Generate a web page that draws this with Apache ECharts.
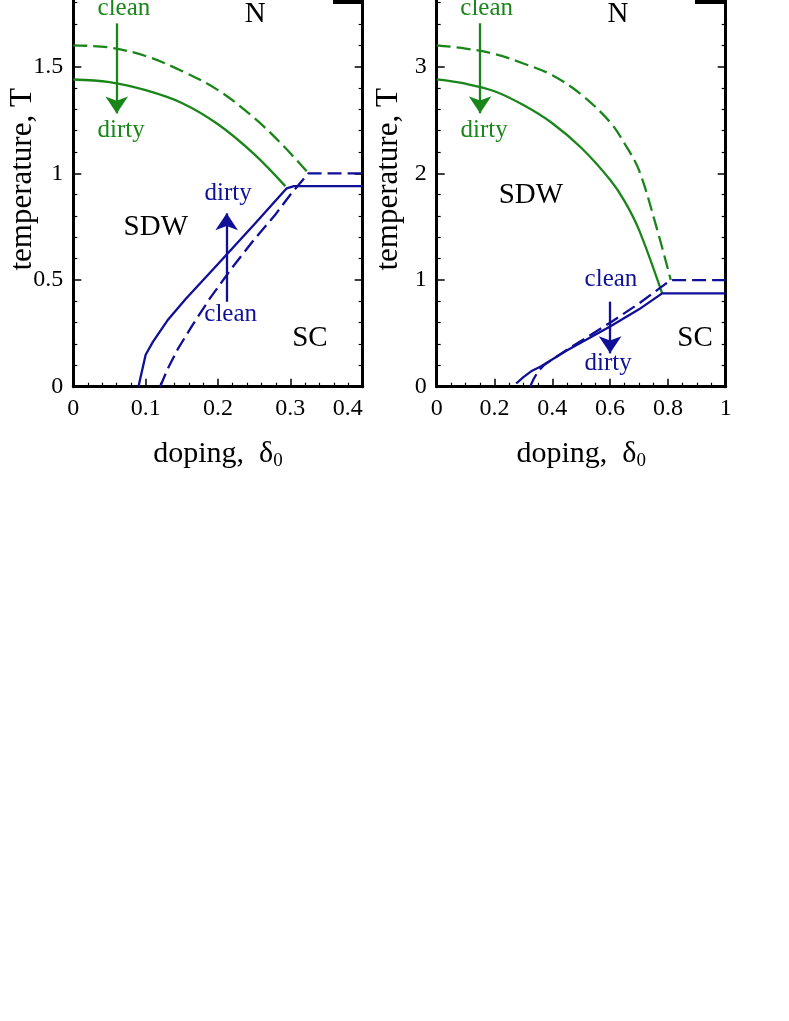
<!DOCTYPE html>
<html>
<head>
<meta charset="utf-8">
<script src="https://cdn.jsdelivr.net/npm/echarts@6/dist/echarts.min.js"></script>
<style>
html,body{margin:0;padding:0;background:#fff;}
#chart{width:789px;height:1021px;}
</style>
</head>
<body>
<div id="chart"></div>
<script>
// ---------- data ----------
// Left panel
const aGreenDashedX = [0, 0.05, 0.1, 0.15, 0.2, 0.25, 0.29, 0.325];
const aGreenDashedT = [1.6, 1.59, 1.55, 1.48, 1.39, 1.26, 1.13, 1.0];
const aGreenSolidX  = [0, 0.05, 0.1, 0.15, 0.2, 0.25, 0.293];
const aGreenSolidT  = [1.44, 1.428, 1.39, 1.33, 1.23, 1.09, 0.94];
const aBlueSolidX   = [0.09, 0.1, 0.11, 0.13, 0.155, 0.2, 0.25, 0.295, 0.305, 0.4];
const aBlueSolidT   = [0, 0.15, 0.21, 0.31, 0.41, 0.575, 0.76, 0.93, 0.94, 0.94];
const aBlueDashedX  = [0.12, 0.13, 0.145, 0.165, 0.19, 0.22, 0.25, 0.28, 0.3, 0.325, 0.4];
const aBlueDashedT  = [0, 0.08, 0.18, 0.29, 0.42, 0.56, 0.69, 0.81, 0.9, 1.0, 1.0];
// Right panel
const bGreenDashedX = [0, 0.1, 0.2, 0.3, 0.4, 0.5, 0.6, 0.65, 0.7, 0.76, 0.81];
const bGreenDashedT = [3.2, 3.17, 3.12, 3.03, 2.92, 2.74, 2.48, 2.28, 2.03, 1.5, 1.0];
const bGreenSolidX  = [0, 0.1, 0.2, 0.3, 0.4, 0.5, 0.6, 0.65, 0.7, 0.78];
const bGreenSolidT  = [2.88, 2.84, 2.77, 2.64, 2.47, 2.24, 1.94, 1.74, 1.47, 0.875];
const bBlueSolidX   = [0.275, 0.3, 0.33, 0.36, 0.45, 0.6, 0.7, 0.78, 1.0];
const bBlueSolidT   = [0.03, 0.09, 0.15, 0.19, 0.34, 0.565, 0.725, 0.875, 0.875];
const bBlueDashedX  = [0.323, 0.335, 0.35, 0.37, 0.45, 0.6, 0.7, 0.78, 0.81, 1.0];
const bBlueDashedT  = [0, 0.07, 0.14, 0.2, 0.345, 0.6, 0.78, 0.94, 1.0, 1.0];

// Axis ranges / ticks
const aXRange = [0, 0.4], aXStep = 0.1, aYRange = [0, 2], aYStep = 0.5;
const bXRange = [0, 1],   bXStep = 0.2, bYRange = [0, 4], bYStep = 1;

// Annotations (text, δ, T)
const aTexts = [
  ['clean', 0.07, 1.773, 'g'], ['dirty', 0.066, 1.203, 'g'],
  ['dirty', 0.214, 0.906, 'b'], ['clean', 0.2175, 0.338, 'b'],
  ['SDW', 0.114, 0.748, 'k'], ['SC', 0.327, 0.227, 'k'], ['N', 0.2513, 1.746, 'k']
];
const bTexts = [
  ['clean', 0.173, 3.546, 'g'], ['dirty', 0.164, 2.406, 'g'],
  ['clean', 0.603, 1.004, 'b'], ['dirty', 0.593, 0.218, 'b'],
  ['SDW', 0.326, 1.795, 'k'], ['SC', 0.894, 0.4536, 'k'], ['N', 0.627, 3.49, 'k']
];
// Arrows: [δ, T from, T to, colour]
const aArrows = [[0.06, 1.703, 1.281, 'g'], [0.212, 0.398, 0.8125, 'b']];
const bArrows = [[0.15, 3.407, 2.563, 'g'], [0.6, 0.797, 0.313, 'b']];

// ---------- style ----------
const GREEN = '#1a861a';
const BLUE = '#0f0f98';
const COL = {g: GREEN, b: BLUE, k: '#000'};
const FONT = "'Liberation Serif','Times New Roman',Times,serif";

function zip(xs, ys) { return xs.map((x, i) => [x, ys[i]]); }

const chart = echarts.init(document.getElementById('chart'), null, {renderer: 'canvas'});

const grids = [
  {left: 73.3, width: 289.4, top: -40, height: 426.7, containLabel: false, outerBoundsMode: 'none'},
  {left: 436.7, width: 289, top: -40, height: 426.7, containLabel: false, outerBoundsMode: 'none'}
];

function xAxisFor(gi, range, step, minorSplit, alignMax) {
  return {
    gridIndex: gi, type: 'value', min: range[0], max: range[1], interval: step,
    axisLine: {show: true, onZero: false, lineStyle: {color: '#000', width: 3}},
    axisTick: {show: true, inside: true, length: 8, lineStyle: {color: '#000', width: 1.5}},
    minorTick: {show: true, splitNumber: minorSplit, length: 4, lineStyle: {color: '#000', width: 1.2}},
    splitLine: {show: false}, minorSplitLine: {show: false},
    axisLabel: {fontFamily: FONT, fontSize: 24, color: '#000', margin: 10, alignMaxLabel: alignMax},
    name: '{a|doping,  δ}{s|0}', nameLocation: 'middle', nameGap: 50, nameMoveOverlap: false,
    nameTextStyle: {
      fontFamily: FONT, color: '#000',
      rich: {
        a: {fontFamily: FONT, fontSize: 30, color: '#000', lineHeight: 34},
        s: {fontFamily: FONT, fontSize: 19, color: '#000', lineHeight: 34, verticalAlign: 'bottom', padding: [10, 0, 0, 0]}
      }
    }
  };
}
function yAxesFor(gi, range, step, gap) {
  const common = {
    gridIndex: gi, type: 'value', min: range[0], max: range[1], interval: step,
    axisLine: {show: true, onZero: false, lineStyle: {color: '#000', width: 3}},
    axisTick: {show: true, inside: true, length: 8, lineStyle: {color: '#000', width: 1.5}},
    minorTick: {show: true, splitNumber: 5, length: 4, lineStyle: {color: '#000', width: 1.2}},
    splitLine: {show: false}, minorSplitLine: {show: false}
  };
  return [
    Object.assign({}, common, {
      position: 'left',
      axisLabel: {fontFamily: FONT, fontSize: 24, color: '#000', margin: 10},
      name: 'temperature, T', nameLocation: 'middle', nameGap: gap, nameMoveOverlap: false,
      nameTextStyle: {fontFamily: FONT, fontSize: 31, color: '#000', padding: [0, 12, 0, 0]}
    }),
    Object.assign({}, common, {position: 'right', axisLabel: {show: false}})
  ];
}

const series = [];
function curve(gi, xs, ys, color, dashed, smooth) {
  series.push({
    type: 'line', xAxisIndex: gi, yAxisIndex: gi * 2, data: zip(xs, ys),
    symbol: 'none', smooth: smooth ? 0.35 : false, silent: true, clip: true,
    lineStyle: {color: color, width: 2.3, type: dashed ? [14, 6] : 'solid'}
  });
}
function texts(gi, list) {
  ['g', 'b', 'k'].forEach(c => {
    const items = list.filter(t => t[3] === c);
    if (!items.length) return;
    series.push({
      type: 'scatter', xAxisIndex: gi, yAxisIndex: gi * 2, silent: true,
      symbol: 'circle', symbolSize: 1, itemStyle: {color: 'rgba(0,0,0,0)', opacity: 1},
      data: items.map(t => ({name: t[0], value: [t[1], t[2]]})),
      label: {
        show: true, position: 'inside', formatter: '{b}', opacity: 1,
        fontFamily: FONT, color: COL[c], fontSize: c === 'k' ? 29 : 25
      }
    });
  });
}
function arrows(gi, list) {
  list.forEach(a => {
    series.push({
      type: 'line', xAxisIndex: gi, yAxisIndex: gi * 2, data: [], silent: true,
      markLine: {
        silent: true, symbol: ['none', 'arrow'], symbolSize: [17, 17],
        label: {show: false},
        lineStyle: {color: COL[a[3]], width: 2.3, type: 'solid'},
        emphasis: {disabled: true},
        data: [[{coord: [a[0], a[1]]}, {coord: [a[0], a[2]]}]]
      }
    });
  });
}

curve(0, aGreenDashedX, aGreenDashedT, GREEN, true, true);
curve(0, aGreenSolidX, aGreenSolidT, GREEN, false, true);
curve(0, aBlueDashedX, aBlueDashedT, BLUE, true, false);
curve(0, aBlueSolidX, aBlueSolidT, BLUE, false, false);
curve(1, bGreenDashedX, bGreenDashedT, GREEN, true, true);
curve(1, bGreenSolidX, bGreenSolidT, GREEN, false, true);
curve(1, bBlueDashedX, bBlueDashedT, BLUE, true, false);
curve(1, bBlueSolidX, bBlueSolidT, BLUE, false, false);
texts(0, aTexts); texts(1, bTexts);
arrows(0, aArrows); arrows(1, bArrows);

const option = {
  animation: false,
  backgroundColor: '#fff',
  grid: grids,
  xAxis: [xAxisFor(0, aXRange, aXStep, 5, 'right'), xAxisFor(1, bXRange, bXStep, 4, 'center')],
  yAxis: yAxesFor(0, aYRange, aYStep, 35).concat(yAxesFor(1, bYRange, bYStep, 32)),
  series: series,
  graphic: [
    {type: 'rect', shape: {x: 333, y: 0, width: 30, height: 4}, style: {fill: '#000'}, silent: true},
    {type: 'rect', shape: {x: 695, y: 0, width: 31, height: 4}, style: {fill: '#000'}, silent: true}
  ]
};
chart.setOption(option);
</script>
</body>
</html>
